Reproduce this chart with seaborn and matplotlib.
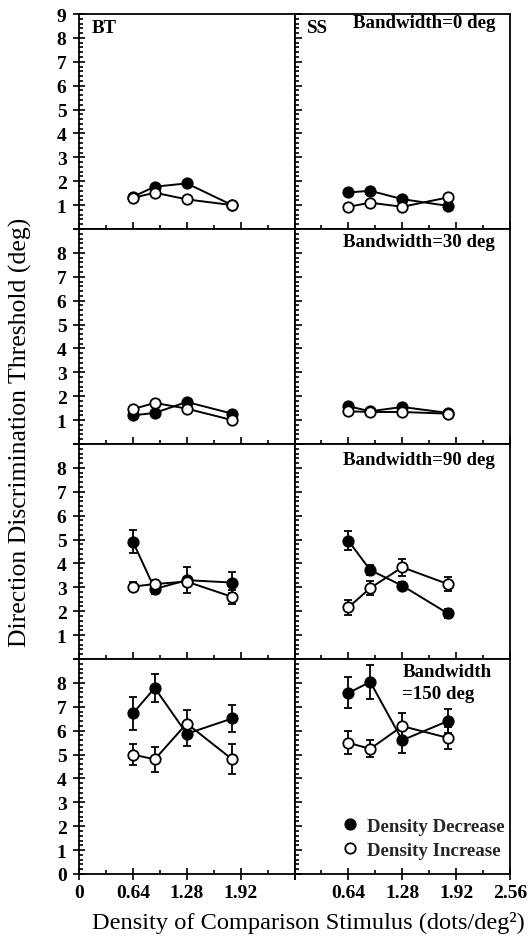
import pandas as pd
import matplotlib
matplotlib.use('Agg')
import matplotlib.pyplot as plt
import seaborn as sns
from matplotlib.ticker import MultipleLocator, FuncFormatter
from matplotlib.lines import Line2D

# density of the comparison stimulus (dots/deg^2)
density = [0.64, 0.90, 1.28, 1.82]
bandwidths = [0, 30, 90, 150]
observers = ['BT', 'SS']

# thresholds (deg)
bt_dec_0 = [1.35, 1.77, 1.91, 1.00]
bt_inc_0 = [1.30, 1.52, 1.24, 1.00]
ss_dec_0 = [1.53, 1.60, 1.25, 0.97]
ss_inc_0 = [0.93, 1.10, 0.93, 1.32]
bt_dec_30 = [1.20, 1.30, 1.76, 1.27]
bt_inc_30 = [1.46, 1.72, 1.48, 1.00]
ss_dec_30 = [1.58, 1.37, 1.55, 1.30]
ss_inc_30 = [1.37, 1.34, 1.34, 1.27]
bt_dec_90 = [4.91, 2.93, 3.30, 3.20]
bt_inc_90 = [3.03, 3.14, 3.24, 2.60]
ss_dec_90 = [4.95, 3.72, 3.07, 1.91]
ss_inc_90 = [2.16, 2.97, 3.84, 3.14]
bt_dec_150 = [6.72, 7.79, 5.87, 6.51]
bt_inc_150 = [5.00, 4.80, 6.30, 4.80]
ss_dec_150 = [7.58, 8.04, 5.60, 6.40]
ss_inc_150 = [5.49, 5.24, 6.19, 5.70]

# error bars (+/- deg)
small_err = [0.08, 0.08, 0.08, 0.08]
bt_dec_90_err = [0.48, 0.20, 0.55, 0.45]
bt_inc_90_err = [0.18, 0.15, 0.20, 0.30]
ss_dec_90_err = [0.40, 0.20, 0.15, 0.20]
ss_inc_90_err = [0.30, 0.30, 0.35, 0.30]
bt_dec_150_err = [0.68, 0.60, 0.50, 0.58]
bt_inc_150_err = [0.45, 0.53, 0.55, 0.63]
ss_dec_150_err = [0.65, 0.70, 0.55, 0.50]
ss_inc_150_err = [0.48, 0.35, 0.55, 0.45]

series = [
    (0, 'BT', 'Density Decrease', bt_dec_0, small_err),
    (0, 'BT', 'Density Increase', bt_inc_0, small_err),
    (0, 'SS', 'Density Decrease', ss_dec_0, small_err),
    (0, 'SS', 'Density Increase', ss_inc_0, small_err),
    (30, 'BT', 'Density Decrease', bt_dec_30, small_err),
    (30, 'BT', 'Density Increase', bt_inc_30, small_err),
    (30, 'SS', 'Density Decrease', ss_dec_30, small_err),
    (30, 'SS', 'Density Increase', ss_inc_30, small_err),
    (90, 'BT', 'Density Decrease', bt_dec_90, bt_dec_90_err),
    (90, 'BT', 'Density Increase', bt_inc_90, bt_inc_90_err),
    (90, 'SS', 'Density Decrease', ss_dec_90, ss_dec_90_err),
    (90, 'SS', 'Density Increase', ss_inc_90, ss_inc_90_err),
    (150, 'BT', 'Density Decrease', bt_dec_150, bt_dec_150_err),
    (150, 'BT', 'Density Increase', bt_inc_150, bt_inc_150_err),
    (150, 'SS', 'Density Decrease', ss_dec_150, ss_dec_150_err),
    (150, 'SS', 'Density Increase', ss_inc_150, ss_inc_150_err),
]
rows = []
for bw, obs, cond, vals, errs in series:
    for x, v, e in zip(density, vals, errs):
        rows.append({'bandwidth': bw, 'observer': obs, 'condition': cond,
                     'density': x, 'threshold': v, 'err': e})
df = pd.DataFrame(rows)

sns.set_theme(style='ticks')
plt.rcParams['font.family'] = ['Liberation Serif', 'DejaVu Serif']

W, H = 531, 937
fig, axes = plt.subplots(4, 2, figsize=(W / 100, H / 100), dpi=100)
fig.subplots_adjust(left=79 / W, right=510 / W, top=1 - 15 / H, bottom=1 - 875 / H,
                    hspace=0, wspace=0)

faces = {'Density Decrease': 'black', 'Density Increase': 'white'}


def fmt_x(v, pos, keep):
    if not any(abs(v - k) < 1e-6 for k in keep):
        return ''
    return '0' if abs(v) < 1e-6 else f'{v:.2f}'


for r, bw in enumerate(bandwidths):
    for c, obs in enumerate(observers):
        ax = axes[r, c]
        sub = df[(df.bandwidth == bw) & (df.observer == obs)]
        for cond in ['Density Decrease', 'Density Increase']:
            d = sub[sub.condition == cond]
            ax.errorbar(d.density, d.threshold, yerr=d.err, fmt='none', ecolor='black',
                        elinewidth=1.3, capsize=3, capthick=1.3, zorder=2)
            sns.lineplot(data=d, x='density', y='threshold', ax=ax, color='black',
                         marker='o', markersize=7.5, markerfacecolor=faces[cond],
                         markeredgecolor='black', markeredgewidth=1.3, linewidth=1.4,
                         errorbar=None, legend=False, zorder=3)
        ax.set_xlim(0, 2.56)
        ax.set_ylim(0, 9)
        ax.set_xlabel('')
        ax.set_ylabel('')
        ax.xaxis.set_major_locator(MultipleLocator(0.64))
        ax.xaxis.set_minor_locator(MultipleLocator(0.32))
        ax.yaxis.set_major_locator(MultipleLocator(1))
        ax.yaxis.set_minor_locator(MultipleLocator(0.2))
        ax.tick_params(which='both', direction='in', color='black', width=1.2,
                       labelsize=14, labelcolor='black')
        ax.tick_params(which='major', length=5)
        ax.tick_params(which='minor', length=3)
        for s in ax.spines.values():
            s.set_linewidth(1.3)
            s.set_color('black')

        if c == 0:
            ax.tick_params(axis='y', which='major', direction='inout', length=8, pad=5)
            lo = 1 if r < 3 else 0
            hi = 9 if r == 0 else 8
            ax.yaxis.set_major_formatter(FuncFormatter(
                lambda v, p, lo=lo, hi=hi: f'{int(round(v))}' if lo <= v <= hi else ''))
        else:
            ax.yaxis.set_major_formatter(FuncFormatter(lambda v, p: ''))

        if r == 3:
            ax.tick_params(axis='x', which='major', direction='inout', length=8, pad=3)
            keep = [0, 0.64, 1.28, 1.92] if c == 0 else [0.64, 1.28, 1.92, 2.56]
            ax.xaxis.set_major_formatter(FuncFormatter(lambda v, p, k=keep: fmt_x(v, p, k)))
        else:
            ax.xaxis.set_major_formatter(FuncFormatter(lambda v, p: ''))

        for lab in ax.get_xticklabels() + ax.get_yticklabels():
            lab.set_fontweight('bold')

bold = dict(fontsize=13.6, fontweight='bold', color='black')
axes[0, 0].text(0.06, 0.935, 'BT', transform=axes[0, 0].transAxes, va='center', **bold)
axes[0, 1].text(0.06, 0.935, 'SS', transform=axes[0, 1].transAxes, va='center', **bold)
axes[0, 1].text(0.93, 0.96, 'Bandwidth=0 deg', transform=axes[0, 1].transAxes,
                ha='right', va='center', **bold)
axes[1, 1].text(0.93, 0.94, 'Bandwidth=30 deg', transform=axes[1, 1].transAxes,
                ha='right', va='center', **bold)
axes[2, 1].text(0.93, 0.93, 'Bandwidth=90 deg', transform=axes[2, 1].transAxes,
                ha='right', va='center', **bold)
axes[3, 1].text(0.50, 0.94, 'Bandwidth', transform=axes[3, 1].transAxes,
                ha='left', va='center', **bold)
axes[3, 1].text(0.50, 0.84, '=150 deg', transform=axes[3, 1].transAxes,
                ha='left', va='center', **bold)

handles = [Line2D([], [], linestyle='none', marker='o', markersize=7.5,
                  markerfacecolor=faces[k], markeredgecolor='black', markeredgewidth=1.3,
                  label=k) for k in ['Density Decrease', 'Density Increase']]
leg = axes[3, 1].legend(handles=handles, loc='lower left', bbox_to_anchor=(0.18, 0.035),
                        frameon=False, handlelength=1.0, handletextpad=0.4,
                        labelspacing=0.35, borderaxespad=0,
                        prop={'size': 13.6, 'weight': 'bold'})

fig.text(20 / W, 1 - 432 / H, 'Direction Discrimination Threshold (deg)', rotation=90,
         ha='center', va='center', fontsize=18.5, color='black')
fig.text(308 / W, 1 - 923 / H, 'Density of Comparison Stimulus (dots/deg²)',
         ha='center', va='center', fontsize=17.6, color='black')

fig.savefig('out.png', dpi=100, facecolor='white')
